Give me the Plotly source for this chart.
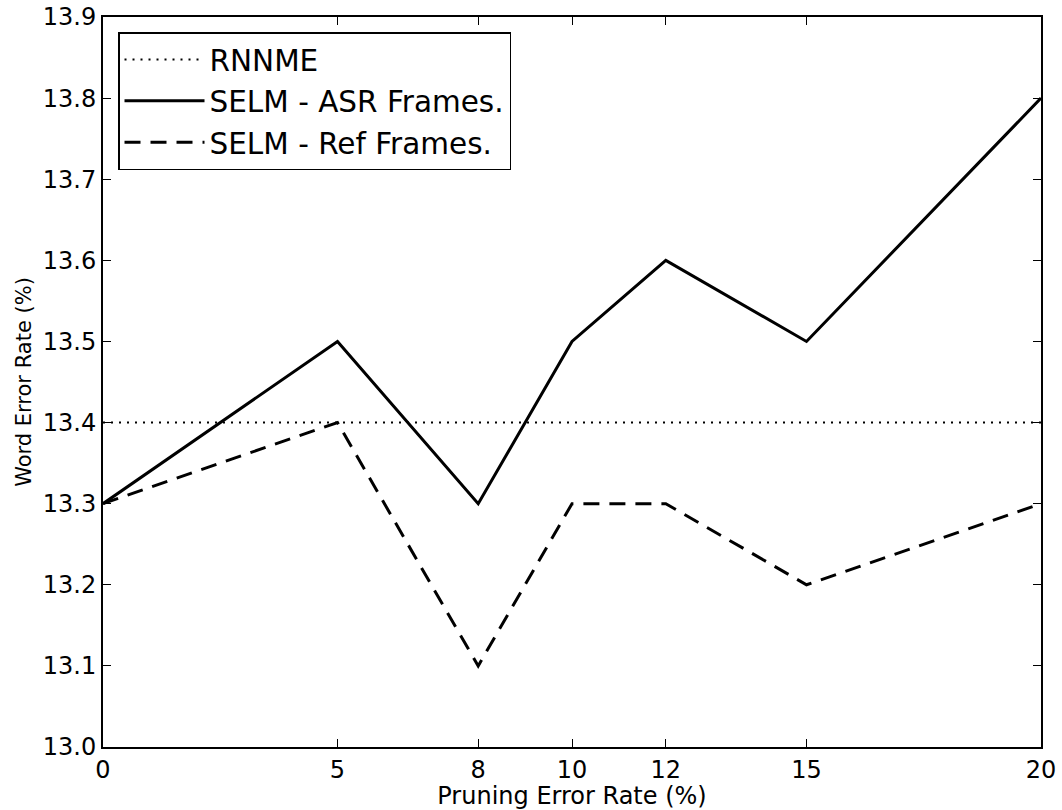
import plotly.graph_objects as go

x_vals = [0, 5, 8, 10, 12, 15, 20]
rnnme = [13.4, 13.4, 13.4, 13.4, 13.4, 13.4, 13.4]
asr = [13.3, 13.5, 13.3, 13.5, 13.6, 13.5, 13.8]
ref = [13.3, 13.4, 13.1, 13.3, 13.3, 13.2, 13.3]
x_ticks = [0, 5, 8, 10, 12, 15, 20]
y_ticks = [13.0, 13.1, 13.2, 13.3, 13.4, 13.5, 13.6, 13.7, 13.8, 13.9]

fig = go.Figure()
fig.add_trace(go.Scatter(x=x_vals, y=rnnme, mode="lines", name="RNNME",
                         line=dict(color="black", width=2, dash="2px,6px")))
fig.add_trace(go.Scatter(x=x_vals, y=asr, mode="lines", name="SELM - ASR Frames.",
                         line=dict(color="black", width=3)))
fig.add_trace(go.Scatter(x=x_vals, y=ref, mode="lines", name="SELM - Ref Frames.",
                         line=dict(color="black", width=3, dash="16px,10px")))

axis_common = dict(showgrid=False, zeroline=False, showline=True, linecolor="black",
                   linewidth=2, mirror="ticks", ticks="inside", ticklen=8,
                   tickwidth=1, tickcolor="black", automargin=False,
                   ticklabeloverflow="allow",
                   tickfont=dict(family="DejaVu Sans", size=24, color="black"))

fig.update_xaxes(range=[0, 20], tickmode="array", tickvals=x_ticks,
                 ticktext=[str(v) for v in x_ticks],
                 title=dict(text="Pruning Error Rate (%)", standoff=2,
                            font=dict(family="DejaVu Sans", size=24, color="black")),
                 **axis_common)
fig.update_yaxes(range=[13.0, 13.9], tickmode="array", tickvals=y_ticks,
                 ticktext=[f"{v:.1f}" for v in y_ticks],
                 title=dict(text="Word Error Rate (%)", standoff=5,
                            font=dict(family="DejaVu Sans", size=21, color="black")),
                 **axis_common)

fig.update_layout(
    width=1062, height=810,
    margin=dict(l=103, r=21, t=17, b=63),
    paper_bgcolor="white", plot_bgcolor="white",
    showlegend=True,
    legend=dict(x=0.016, y=0.979, xanchor="left", yanchor="top",
                bordercolor="black", borderwidth=1.5, bgcolor="white",
                font=dict(family="DejaVu Sans", size=29.5, color="black"),
                itemwidth=80, tracegroupgap=0),
)

fig.write_html("out.html",
               config={"displayModeBar": False},
               post_script="document.body.style.margin='0';document.body.style.overflow='hidden';")
